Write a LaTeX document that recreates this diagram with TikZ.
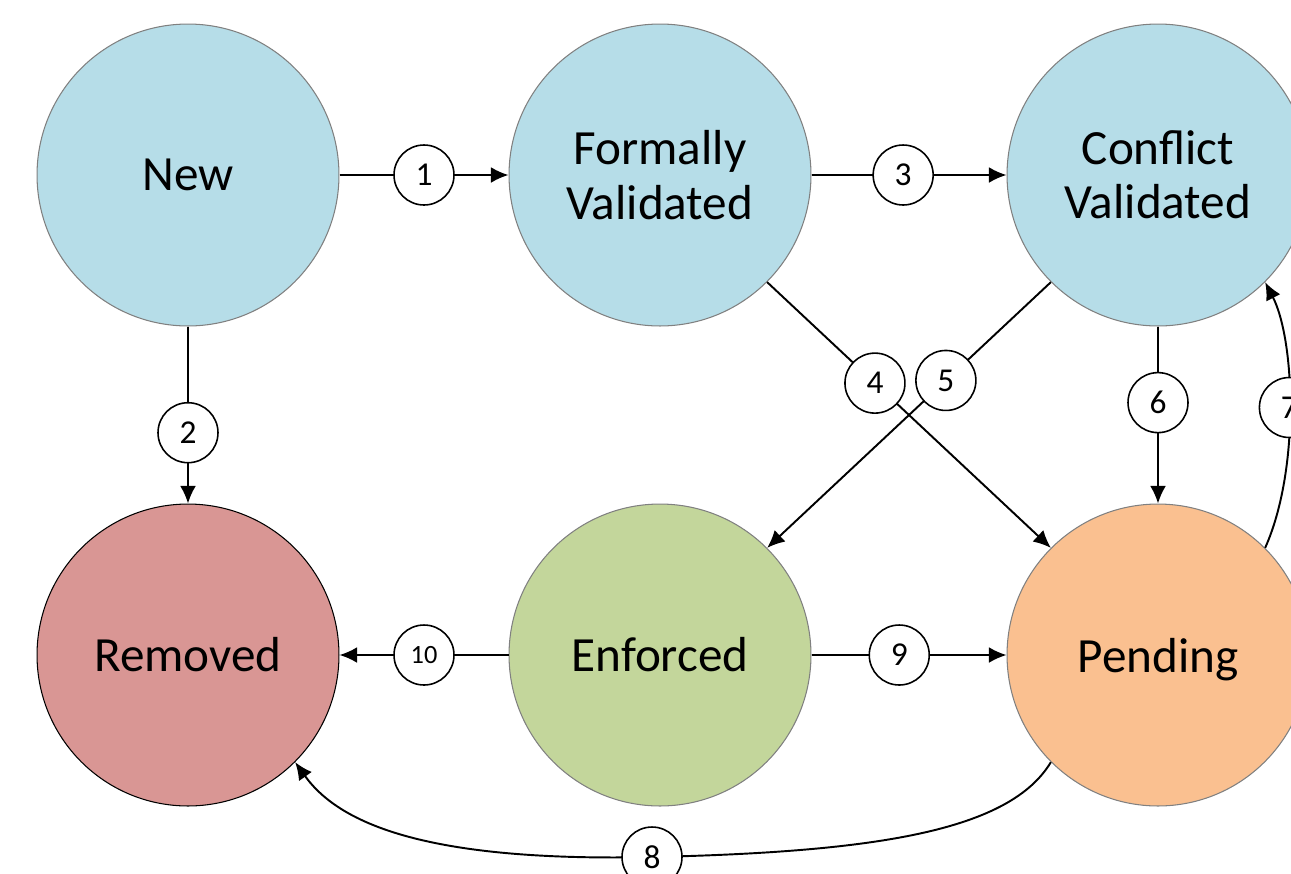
\documentclass[tikz,border=0pt]{standalone}
\usepackage{fontspec}
\setmainfont{Carlito}
\usetikzlibrary{arrows.meta}
\definecolor{stblue}{RGB}{182,221,232}
\definecolor{stred}{RGB}{217,150,148}
\definecolor{stgreen}{RGB}{195,214,155}
\definecolor{storange}{RGB}{250,192,144}
\begin{document}
\begin{tikzpicture}[x=0.02cm,y=-0.02cm]
\tikzstyle{state}=[circle, minimum size=6.04cm, inner sep=0pt, draw=gray, line width=0.6pt, align=center, font=\fontsize{28}{31}\selectfont]
\tikzstyle{num}=[circle, draw, fill=white, line width=0.9pt, minimum size=1.2cm, inner sep=0pt, font=\fontsize{19}{20}\selectfont]
\tikzstyle{edge}=[line width=1.1pt, -{Latex[length=10pt,width=9pt]}]
\useasboundingbox (0,0) rectangle (1291,873);
\clip (0,0) rectangle (1291,873);
\node (new) [state,fill=stblue] at (188,175) {New};
\node (fv) [state,fill=stblue] at (660,175) {Formally\\Validated};
\node (cv) [state,fill=stblue] at (1158,175) {Conflict\\Validated};
\node (rem) [state,fill=stred,draw=black] at (188,655) {Removed};
\node (enf) [state,fill=stgreen] at (660,655) {Enforced};
\node (pend) [state,fill=storange,text depth=0pt] at (1158,655) {Pending};
\coordinate (m8) at (652,857);
\draw[edge] (new) -- node[num] {1} (fv);
\draw[edge] (new) -- node[num,pos=0.6] {2} (rem);
\draw[edge] (fv) -- node[num,pos=0.47] {3} (cv);
\draw[edge] (fv.-45) -- node[num,pos=0.38] {4} (pend.135);
\draw[edge] (cv.-135) -- node[num,pos=0.37] {5} (enf.45);
\draw[edge] (cv) -- node[num,pos=0.43] {6} (pend);
\draw[edge] (pend.45) .. controls (1300,470) and (1295,340) .. node[num] {7} (cv.-45);
\draw[line width=1.1pt] (pend.-135) .. controls (1010,830) and (880,852) .. (m8);
\draw[edge] (m8) .. controls (430,862) and (340,825) .. (rem.-45);
\node[num] at (m8) {8};
\draw[edge] (enf) -- node[num,pos=0.45] {9} (pend);
\draw[edge] (enf) -- node[num,font=\fontsize{15}{16}\selectfont] {10} (rem);
\end{tikzpicture}
\end{document}
